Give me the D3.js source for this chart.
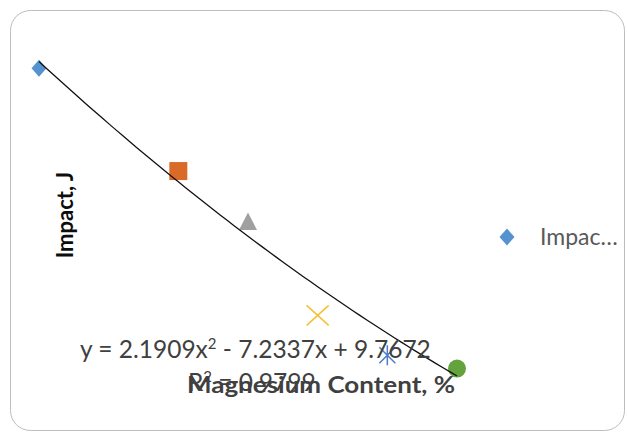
<!DOCTYPE html>
<html>
<head>
<meta charset="utf-8">
<script src="https://cdn.jsdelivr.net/npm/d3@7"></script>
<style>
  html, body { margin: 0; padding: 0; background: #fff; }
  svg { display: block; }
  text { font-family: Lato, "Open Sans", sans-serif; }
</style>
</head>
<body>
<svg id="chart" width="627" height="433"></svg>
<script>
// Magnesium content (%) and measured impact energy (J)
const magnesium = [0, 0.2, 0.3, 0.4, 0.5, 0.6];
const impact = [9.69, 8.53, 7.96, 6.90, 6.45, 6.30];
const seriesName = "Impact, J";

// Polynomial (order 2) trendline as reported: y = a x^2 + b x + c
const trendCoef = { a: 2.1909, b: -7.2337, c: 9.7672 };
const rSquared = 0.9799;

const xTitle = "Magnesium Content, %";
const yTitle = "Impact, J";
const legendLabel = "Impac\u2026";

// one marker style per point (varied by point)
const markerShapes = ["diamond", "square", "triangle", "cross", "star", "circle"];
const markerColors = ["#5592cf", "#da6a27", "#a0a0a0", "#f3c13a", "#4f7bcc", "#64a23e"];

const svg = d3.select("#chart");

// chart frame
svg.append("rect")
  .attr("x", 10.5).attr("y", 10.5)
  .attr("width", 614).attr("height", 420)
  .attr("rx", 20).attr("ry", 20)
  .attr("fill", "#fff")
  .attr("stroke", "#bdbdbd")
  .attr("stroke-width", 1);

const x = d3.scaleLinear().domain([0, 0.6]).range([39, 457]);
const y = d3.scaleLinear().domain([6, 10]).range([395.1, 40.9]);

const pts = magnesium.map((m, i) => ({ m, v: impact[i], shape: markerShapes[i], color: markerColors[i] }));

// markers
const gMarks = svg.append("g");
pts.forEach(p => {
  const cx = x(p.m), cy = y(p.v);
  const g = gMarks.append("g").attr("transform", `translate(${cx},${cy})`);
  if (p.shape === "diamond") {
    g.append("path").attr("d", "M0,-8.5 L7.5,0 L0,8.5 L-7.5,0Z").attr("fill", p.color);
  } else if (p.shape === "square") {
    g.append("rect").attr("x", -9).attr("y", -9).attr("width", 18).attr("height", 18).attr("fill", p.color);
  } else if (p.shape === "triangle") {
    g.append("path").attr("d", "M0,-9 L9,8.5 L-9,8.5Z").attr("fill", p.color);
  } else if (p.shape === "cross") {
    g.append("path").attr("d", "M-11,-10 L11,10 M-11,10 L11,-10")
      .attr("stroke", p.color).attr("stroke-width", 1.6).attr("fill", "none");
  } else if (p.shape === "star") {
    g.append("path").attr("d", "M-8,-8 L8,8 M-8,8 L8,-8 M0,-10 L0,10")
      .attr("stroke", p.color).attr("stroke-width", 1.5).attr("fill", "none");
  } else if (p.shape === "circle") {
    g.append("circle").attr("r", 9).attr("fill", p.color);
  }
});

// trendline over the data range
const xs = d3.range(0, 61).map(i => d3.min(magnesium) + (d3.max(magnesium) - d3.min(magnesium)) * i / 60);
const trend = xs.map(m => [m, trendCoef.a * m * m + trendCoef.b * m + trendCoef.c]);
svg.append("path")
  .datum(trend)
  .attr("fill", "none")
  .attr("stroke", "#111")
  .attr("stroke-width", 1.3)
  .attr("d", d3.line().x(d => x(d[0])).y(d => y(d[1])));

// axis titles
svg.append("text")
  .attr("transform", "translate(73,215) rotate(-90)")
  .attr("text-anchor", "middle")
  .attr("font-size", 22)
  .attr("font-weight", "bold")
  .attr("fill", "#0d0d0d")
  .text(yTitle);

svg.append("text")
  .attr("x", 187).attr("y", 393)
  .attr("font-size", 23)
  .attr("font-weight", "bold")
  .attr("fill", "#404040")
  .attr("textLength", 268)
  .attr("lengthAdjust", "spacingAndGlyphs")
  .text(xTitle);

// trendline equation and R²
const fmt = v => Math.abs(v).toFixed(4);
const eq = svg.append("text")
  .attr("x", 80).attr("y", 358)
  .attr("font-size", 24.5)
  .attr("fill", "#404040");
eq.append("tspan").text(`y = ${fmt(trendCoef.a)}x`);
eq.append("tspan").attr("dy", -9).attr("font-size", 15).text("2");
eq.append("tspan").attr("dy", 9).text(` ${trendCoef.b < 0 ? "-" : "+"} ${fmt(trendCoef.b)}x ${trendCoef.c < 0 ? "-" : "+"} ${fmt(trendCoef.c)}`);

const r2 = svg.append("text")
  .attr("x", 188).attr("y", 391)
  .attr("font-size", 24.5)
  .attr("fill", "#404040");
r2.append("tspan").text("R");
r2.append("tspan").attr("dy", -9).attr("font-size", 15).text("2");
r2.append("tspan").attr("dy", 9).text(` = ${rSquared.toFixed(4)}`);

// legend
const lg = svg.append("g").attr("transform", "translate(507,237)");
lg.append("path").attr("d", "M0,-8.5 L7.5,0 L0,8.5 L-7.5,0Z").attr("fill", markerColors[0]);
lg.append("text")
  .attr("x", 33).attr("y", 8)
  .attr("font-size", 23)
  .attr("fill", "#595959")
  .text(legendLabel);
</script>
</body>
</html>
